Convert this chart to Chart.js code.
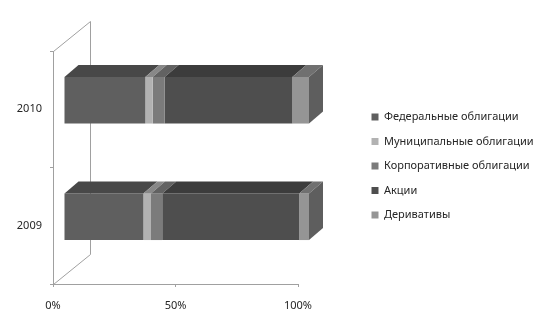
<!DOCTYPE html>
<html lang="ru">
<head>
  <meta charset="UTF-8">
  <title>Структура портфеля</title>
  <script src="https://cdn.jsdelivr.net/npm/chart.js"></script>
  <style>
    body { margin: 0; background: #fff; }
    #wrap { width: 544px; height: 334px; }
  </style>
</head>
<body>
<div id="wrap"><canvas id="portfolioChart"></canvas></div>
<script>
  // data (shares in %)
  var years = ['2010', '2009'];
  var federal = [33.2, 32.4];
  var municipal = [3.0, 3.1];
  var corporate = [4.9, 4.6];
  var stocks = [52.1, 55.9];
  var derivatives = [6.8, 4.0];
  var xTicks = [0, 50, 100];

  var seriesNames = ['Федеральные облигации', 'Муниципальные облигации', 'Корпоративные облигации', 'Акции', 'Деривативы'];
  var seriesData = [federal, municipal, corporate, stocks, derivatives];
  var frontColors = ['#5f5f5f', '#b2b2b2', '#7b7b7b', '#4e4e4e', '#959595'];
  var topColors = ['#484848', '#888888', '#626262', '#3c3c3c', '#707070'];
  var sideColor = '#5e5e5e';

  // 3d look: bars sit in the middle of the floor depth
  var wallDepth = { dx: 37, dy: -30 };
  var barShift = { dx: 11, dy: -9 };
  var barDepth = { dx: 14, dy: -12 };
  var lineColor = '#a0a0a0';

  Chart.defaults.font.family = "'Noto Sans', sans-serif";
  Chart.defaults.font.size = 11;
  Chart.defaults.color = '#262626';

  var fake3d = {
    id: 'fake3d',
    afterLayout: function(chart) {
      // put the legend where it stands in the picture
      var lg = chart.legend;
      lg.left = 358;
      lg.right = 544;
      lg.width = 186;
      lg.top = 0;
      lg.bottom = 332;
      lg.height = 332;
    },
    beforeDatasetsDraw: function(chart) {
      var ctx = chart.ctx, a = chart.chartArea, xs = chart.scales.x;
      ctx.save();
      ctx.strokeStyle = lineColor;
      ctx.lineWidth = 1;
      ctx.beginPath();
      // back wall
      ctx.moveTo(a.left + 0.5, a.top + 0.5);
      ctx.lineTo(a.left + wallDepth.dx + 0.5, a.top + wallDepth.dy + 0.5);
      ctx.lineTo(a.left + wallDepth.dx + 0.5, a.bottom + wallDepth.dy + 0.5);
      ctx.moveTo(a.left + 0.5, a.bottom + 0.5);
      ctx.lineTo(a.left + wallDepth.dx + 0.5, a.bottom + wallDepth.dy + 0.5);
      // front x axis line
      ctx.moveTo(xs.getPixelForValue(0), a.bottom + 0.5);
      ctx.lineTo(xs.getPixelForValue(100) + 0.5, a.bottom + 0.5);
      ctx.stroke();
      ctx.restore();

      ctx.save();
      ctx.translate(barShift.dx, barShift.dy);
    },
    afterDatasetsDraw: function(chart) {
      var ctx = chart.ctx;
      var n = chart.data.datasets.length;
      for (var i = 0; i < n; i++) {
        var meta = chart.getDatasetMeta(i);
        meta.data.forEach(function(bar) {
          var p = bar.getProps(['x', 'y', 'base', 'height'], true);
          var top = p.y - p.height / 2, bottom = p.y + p.height / 2;
          var l = Math.min(p.x, p.base), r = Math.max(p.x, p.base);
          ctx.fillStyle = topColors[i];
          ctx.beginPath();
          ctx.moveTo(l, top);
          ctx.lineTo(r, top);
          ctx.lineTo(r + barDepth.dx, top + barDepth.dy);
          ctx.lineTo(l + barDepth.dx, top + barDepth.dy);
          ctx.closePath();
          ctx.fill();
          if (i === n - 1) {
            ctx.fillStyle = sideColor;
            ctx.beginPath();
            ctx.moveTo(r, top);
            ctx.lineTo(r + barDepth.dx, top + barDepth.dy);
            ctx.lineTo(r + barDepth.dx, bottom + barDepth.dy);
            ctx.lineTo(r, bottom);
            ctx.closePath();
            ctx.fill();
          }
        });
      }
      ctx.restore();
    }
  };

  var datasets = seriesNames.map(function(name, i) {
    return {
      label: name,
      data: seriesData[i],
      backgroundColor: frontColors[i],
      borderColor: frontColors[i],
      borderWidth: 0,
      barPercentage: 0.4,
      categoryPercentage: 1,
      clip: false
    };
  });

  new Chart(document.getElementById('portfolioChart'), {
    type: 'bar',
    data: { labels: years, datasets: datasets },
    plugins: [fake3d],
    options: {
      indexAxis: 'y',
      responsive: true,
      maintainAspectRatio: false,
      animation: false,
      layout: { padding: { top: 51, right: 76, left: 0, bottom: 0 } },
      plugins: {
        tooltip: { enabled: false },
        legend: {
          position: 'right',
          maxWidth: 170,
          labels: { boxWidth: 7, boxHeight: 7, padding: 13.5 }
        }
      },
      scales: {
        x: {
          stacked: true,
          min: 0,
          max: 100,
          afterBuildTicks: function(s) { s.ticks = xTicks.map(function(v) { return { value: v }; }); },
          afterFit: function(s) { s.height = 50; },
          border: { display: false },
          grid: { drawOnChartArea: false, tickLength: 3, color: lineColor },
          ticks: { padding: 12, callback: function(v) { return v + '%'; } }
        },
        y: {
          stacked: true,
          afterFit: function(s) { s.width = 53; },
          border: { display: true, color: lineColor },
          grid: { drawOnChartArea: false, tickLength: 3, color: lineColor, offset: true },
          ticks: { padding: 8 }
        }
      }
    }
  });
</script>
</body>
</html>
